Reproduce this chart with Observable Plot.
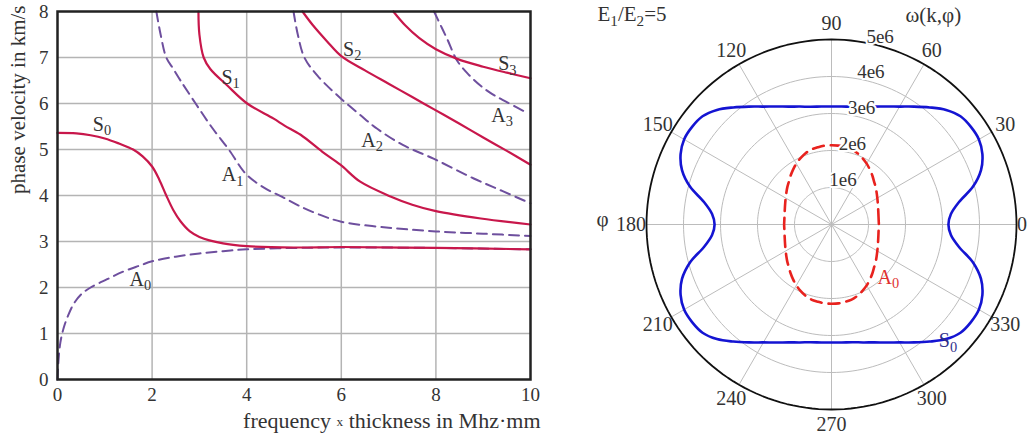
<!DOCTYPE html>
<html>
<head>
<meta charset="utf-8">
<script src="https://cdn.jsdelivr.net/npm/d3@7"></script>
<script src="https://cdn.jsdelivr.net/npm/@observablehq/plot@0.6"></script>
<style>
  body { margin: 0; background: white; }
  #wrap { position: relative; width: 1028px; height: 437px; background: white; overflow: hidden; }
  #left, #right { position: absolute; top: 0; }
  #left { left: 0; }
  #right { left: 560px; }
</style>
</head>
<body>
<div id="wrap"><div id="left"></div><div id="right"></div></div>
<script>
// ---------- Left panel data: dispersion curves (x = f·d in MHz·mm, y = phase velocity km/s)
const xTicks = [0, 2, 4, 6, 8, 10];
const yTicks = [0, 1, 2, 3, 4, 5, 6, 7, 8];

const S0 = [[0,5.36],[0.4,5.35],[0.7,5.31],[1.0,5.24],[1.3,5.13],[1.6,5.0],[1.8,4.85],[2.0,4.63],[2.15,4.35],[2.3,4.0],[2.45,3.68],[2.6,3.44],[2.8,3.22],[3.0,3.1],[3.5,2.96],[4,2.9],[5,2.87],[6,2.88],[8,2.86],[10,2.83]];
const S1 = [[2.98,8],[3.0,7.5],[3.09,7.0],[3.23,6.75],[3.59,6.39],[4.01,6.0],[4.57,5.67],[4.8,5.52],[5.14,5.32],[5.6,4.95],[5.98,4.67],[6.4,4.3],[7.04,3.98],[7.5,3.8],[8,3.66],[8.95,3.5],[10,3.37]];
const S2 = [[5.18,8],[5.4,7.7],[5.7,7.35],[6.0,7.03],[6.5,6.72],[7,6.43],[7.5,6.14],[8,5.85],[8.5,5.56],[9,5.26],[9.5,4.97],[10,4.67]];
const S3 = [[7.1,8],[7.35,7.7],[7.65,7.42],[8,7.18],[8.45,6.97],[9,6.8],[9.5,6.67],[10,6.55]];
const A0 = [[0,0],[0.02,0.4],[0.06,0.8],[0.13,1.12],[0.22,1.38],[0.34,1.64],[0.5,1.85],[0.7,2.0],[1.05,2.18],[1.4,2.35],[1.75,2.48],[2.0,2.57],[2.5,2.67],[3,2.74],[3.5,2.79],[4,2.83],[5,2.86],[6,2.87],[8,2.86],[10,2.83]];
const A1 = [[2.09,8],[2.18,7.5],[2.3,7.0],[2.45,6.75],[2.6,6.5],[2.92,6.0],[3.25,5.5],[3.62,5.0],[4.0,4.45],[4.4,4.15],[4.75,3.97],[5.1,3.78],[5.5,3.6],[6,3.43],[7,3.3],[8,3.22],[9,3.17],[10,3.12]];
const A2 = [[4.99,8],[5.08,7.5],[5.22,7.0],[5.5,6.6],[6.0,6.1],[6.4,5.75],[6.76,5.45],[7.3,5.1],[7.95,4.8],[8.8,4.37],[9.4,4.1],[10,3.83]];
const A3 = [[7.96,8],[8.1,7.7],[8.24,7.4],[8.45,6.93],[8.7,6.62],[8.94,6.39],[9.2,6.2],[9.5,6.03],[9.92,5.8]];

const curveLabels = ["S_0", "S_1", "S_2", "S_3", "A_0", "A_1", "A_2", "A_3"];
const curveLabelX = [0.94, 3.66, 6.23, 9.51, 1.75, 3.7, 6.65, 9.4];
const curveLabelY = [5.55, 6.57, 7.18, 6.86, 2.18, 4.45, 5.2, 5.74];

// ---------- Right panel data: polar ω(k,φ), radius in units of 1e6, quadrant 0..90°
const polarPhi = [0,5,10,15,20,25,30,35,40,45,50,55,60,65,70,75,80,85,90];
const s0Radius = [3.16,3.24,3.5,3.96,4.3,4.5,4.6,4.6,4.55,4.38,4.13,3.89,3.68,3.52,3.39,3.3,3.23,3.2,3.19];
const a0Radius = [1.28,1.28,1.29,1.31,1.34,1.38,1.43,1.49,1.56,1.63,1.72,1.81,1.9,1.98,2.05,2.1,2.12,2.14,2.14];
const angleTicks = [0,30,60,90,120,150,180,210,240,270,300,330];
const ringTicks = [1,2,3,4,5];
const ringLabels = ["1e6","2e6","3e6","4e6","5e6"];
const polarLabels = ["A_0", "S_0"];
const polarLabelAngle = [317, 315];
const polarLabelRadius = [2.1, 4.45];

const FONT = "'Liberation Serif', 'Times New Roman', serif";
const CRIMSON = "#c8174b", PURPLE = "#6e4f9e", BLUE = "#1414d2", RED = "#e8221e";

// ---------- Left plot
const left = Plot.plot({
  width: 560, height: 437,
  marginLeft: 57, marginRight: 30, marginTop: 11, marginBottom: 58,
  style: { fontFamily: FONT, fontSize: "19px", color: "#333", background: "white" },
  x: { domain: [0, 10], ticks: xTicks, tickSize: 0, tickPadding: 8, label: null },
  y: { domain: [0, 8], ticks: yTicks, tickSize: 0, tickPadding: 9, label: null },
  marks: [
    Plot.ruleX(xTicks.filter(v => v > 0 && v < 10), { stroke: "#b4b4b4", strokeWidth: 1.5 }),
    Plot.ruleY(yTicks.filter(v => v > 0 && v < 8), { stroke: "#b4b4b4", strokeWidth: 1.5 }),
    ...[A0, A1, A2, A3].map(c => Plot.line(c, { x: d => d[0], y: d => d[1], stroke: PURPLE, strokeWidth: 2, strokeDasharray: "10,6", curve: "catmull-rom" })),
    ...[S0, S1, S2, S3].map(c => Plot.line(c, { x: d => d[0], y: d => d[1], stroke: CRIMSON, strokeWidth: 2.2, curve: "catmull-rom" })),
    Plot.text(curveLabels, { x: (d, i) => curveLabelX[i], y: (d, i) => curveLabelY[i], text: d => d, fontSize: 20, fill: "#333" }),
    Plot.frame({ stroke: "#222", strokeWidth: 2.5 }),
    Plot.text(["phase velocity in km/s"], { frameAnchor: "top-left", rotate: -90, textAnchor: "end", lineAnchor: "middle", dx: -39, dy: -6, fontSize: 21 }),
    Plot.text(["frequency {x} thickness in Mhz·mm"], { frameAnchor: "bottom-right", textAnchor: "end", lineAnchor: "middle", dx: 10, dy: 41, fontSize: 22 })
  ]
});

// ---------- Right (polar) plot
const rad = a => a * Math.PI / 180;
function fullCurve(radii) {
  const pts = [];
  for (let phi = 0; phi < 360; phi += 5) {
    let p = phi % 180; if (p > 90) p = 180 - p;
    const r = radii[polarPhi.indexOf(p)];
    pts.push({ x: r * Math.cos(rad(phi)), y: r * Math.sin(rad(phi)) });
  }
  return pts;
}
const ringPts = [];
ringTicks.forEach(v => { for (let a = 0; a <= 360; a += 2) ringPts.push({ ring: v, x: v * Math.cos(rad(a)), y: v * Math.sin(rad(a)) }); });
const outer = ringTicks[ringTicks.length - 1];
const K = 37, CX = 271, CY = 224, RW = 468, RH = 437;
const labelAngle = 75.5;
const tickR = a => a === 0 ? 5.15 : 5.42;

const right = Plot.plot({
  width: RW, height: RH, margin: 0,
  style: { fontFamily: FONT, fontSize: "20px", color: "#333", background: "white" },
  x: { domain: [-CX / K, (RW - CX) / K], axis: null },
  y: { domain: [-(RH - CY) / K, CY / K], axis: null },
  marks: [
    Plot.line(ringPts.filter(d => d.ring < outer), { x: "x", y: "y", z: "ring", stroke: "#bcbcbc", strokeWidth: 1 }),
    Plot.link(angleTicks, { x1: 0, y1: 0, x2: a => outer * Math.cos(rad(a)), y2: a => outer * Math.sin(rad(a)), stroke: "#bcbcbc", strokeWidth: 1 }),
    Plot.line(ringPts.filter(d => d.ring === outer), { x: "x", y: "y", stroke: "#111", strokeWidth: 1.8 }),
    Plot.line(fullCurve(a0Radius), { x: "x", y: "y", stroke: RED, strokeWidth: 2.6, strokeDasharray: "11,7", curve: "catmull-rom-closed" }),
    Plot.line(fullCurve(s0Radius), { x: "x", y: "y", stroke: BLUE, strokeWidth: 2.6, curve: "catmull-rom-closed" }),
    Plot.text(ringTicks, { x: v => (v + 0.25) * Math.cos(rad(labelAngle)), y: v => (v + 0.25) * Math.sin(rad(labelAngle)), text: (v, i) => ringLabels[i], fill: "#333", stroke: "white", strokeWidth: 4, fontSize: 19 }),
    Plot.text(angleTicks, { x: a => tickR(a) * Math.cos(rad(a)), y: a => tickR(a) * Math.sin(rad(a)), text: a => String(a), fill: "#333", fontSize: 20 }),
    Plot.text(polarLabels, { x: (d, i) => polarLabelRadius[i] * Math.cos(rad(polarLabelAngle[i])), y: (d, i) => polarLabelRadius[i] * Math.sin(rad(polarLabelAngle[i])), text: d => d, fill: (d, i) => i === 0 ? "#e03030" : "#2e2e8c", fontSize: 20 }),
    Plot.text(["ω(k,φ)"], { frameAnchor: "top-left", dx: 345, dy: 15, lineAnchor: "middle", fontSize: 21 }),
    Plot.text(["E_1/E_2=5"], { frameAnchor: "top-left", dx: 37, dy: 14, textAnchor: "start", lineAnchor: "middle", fontSize: 21 }),
    Plot.text(["φ"], { frameAnchor: "left", dx: 36, fontSize: 21 })
  ]
});

// ---------- post-processing of text: subscripts and the small "x"
const NS = "http://www.w3.org/2000/svg";
function richText(svg) {
  svg.querySelectorAll("text").forEach(t => {
    if (t.children.length) return;
    const s = t.textContent;
    if (s.includes("{x}")) {
      const [a, b] = s.split("{x}");
      t.textContent = "";
      const t1 = document.createElementNS(NS, "tspan"); t1.textContent = a; t.appendChild(t1);
      const t2 = document.createElementNS(NS, "tspan"); t2.textContent = "x"; t2.setAttribute("font-size", "0.6em"); t2.setAttribute("dy", "-0.15em"); t.appendChild(t2);
      const t3 = document.createElementNS(NS, "tspan"); t3.textContent = b; t3.setAttribute("dy", "0.09em"); t.appendChild(t3);
      return;
    }
    if (!s.includes("_")) return;
    const parts = s.split(/_(\d)/);
    t.textContent = "";
    let shifted = false;
    parts.forEach((p, i) => {
      if (!p) return;
      const ts = document.createElementNS(NS, "tspan");
      ts.textContent = p;
      if (i % 2 === 1) { ts.setAttribute("font-size", "0.72em"); ts.setAttribute("dy", "0.3em"); shifted = true; }
      else if (shifted) { ts.setAttribute("dy", "-0.216em"); shifted = false; }
      t.appendChild(ts);
    });
  });
}
richText(left); richText(right);
document.getElementById("left").appendChild(left);
document.getElementById("right").appendChild(right);
</script>
</body>
</html>
